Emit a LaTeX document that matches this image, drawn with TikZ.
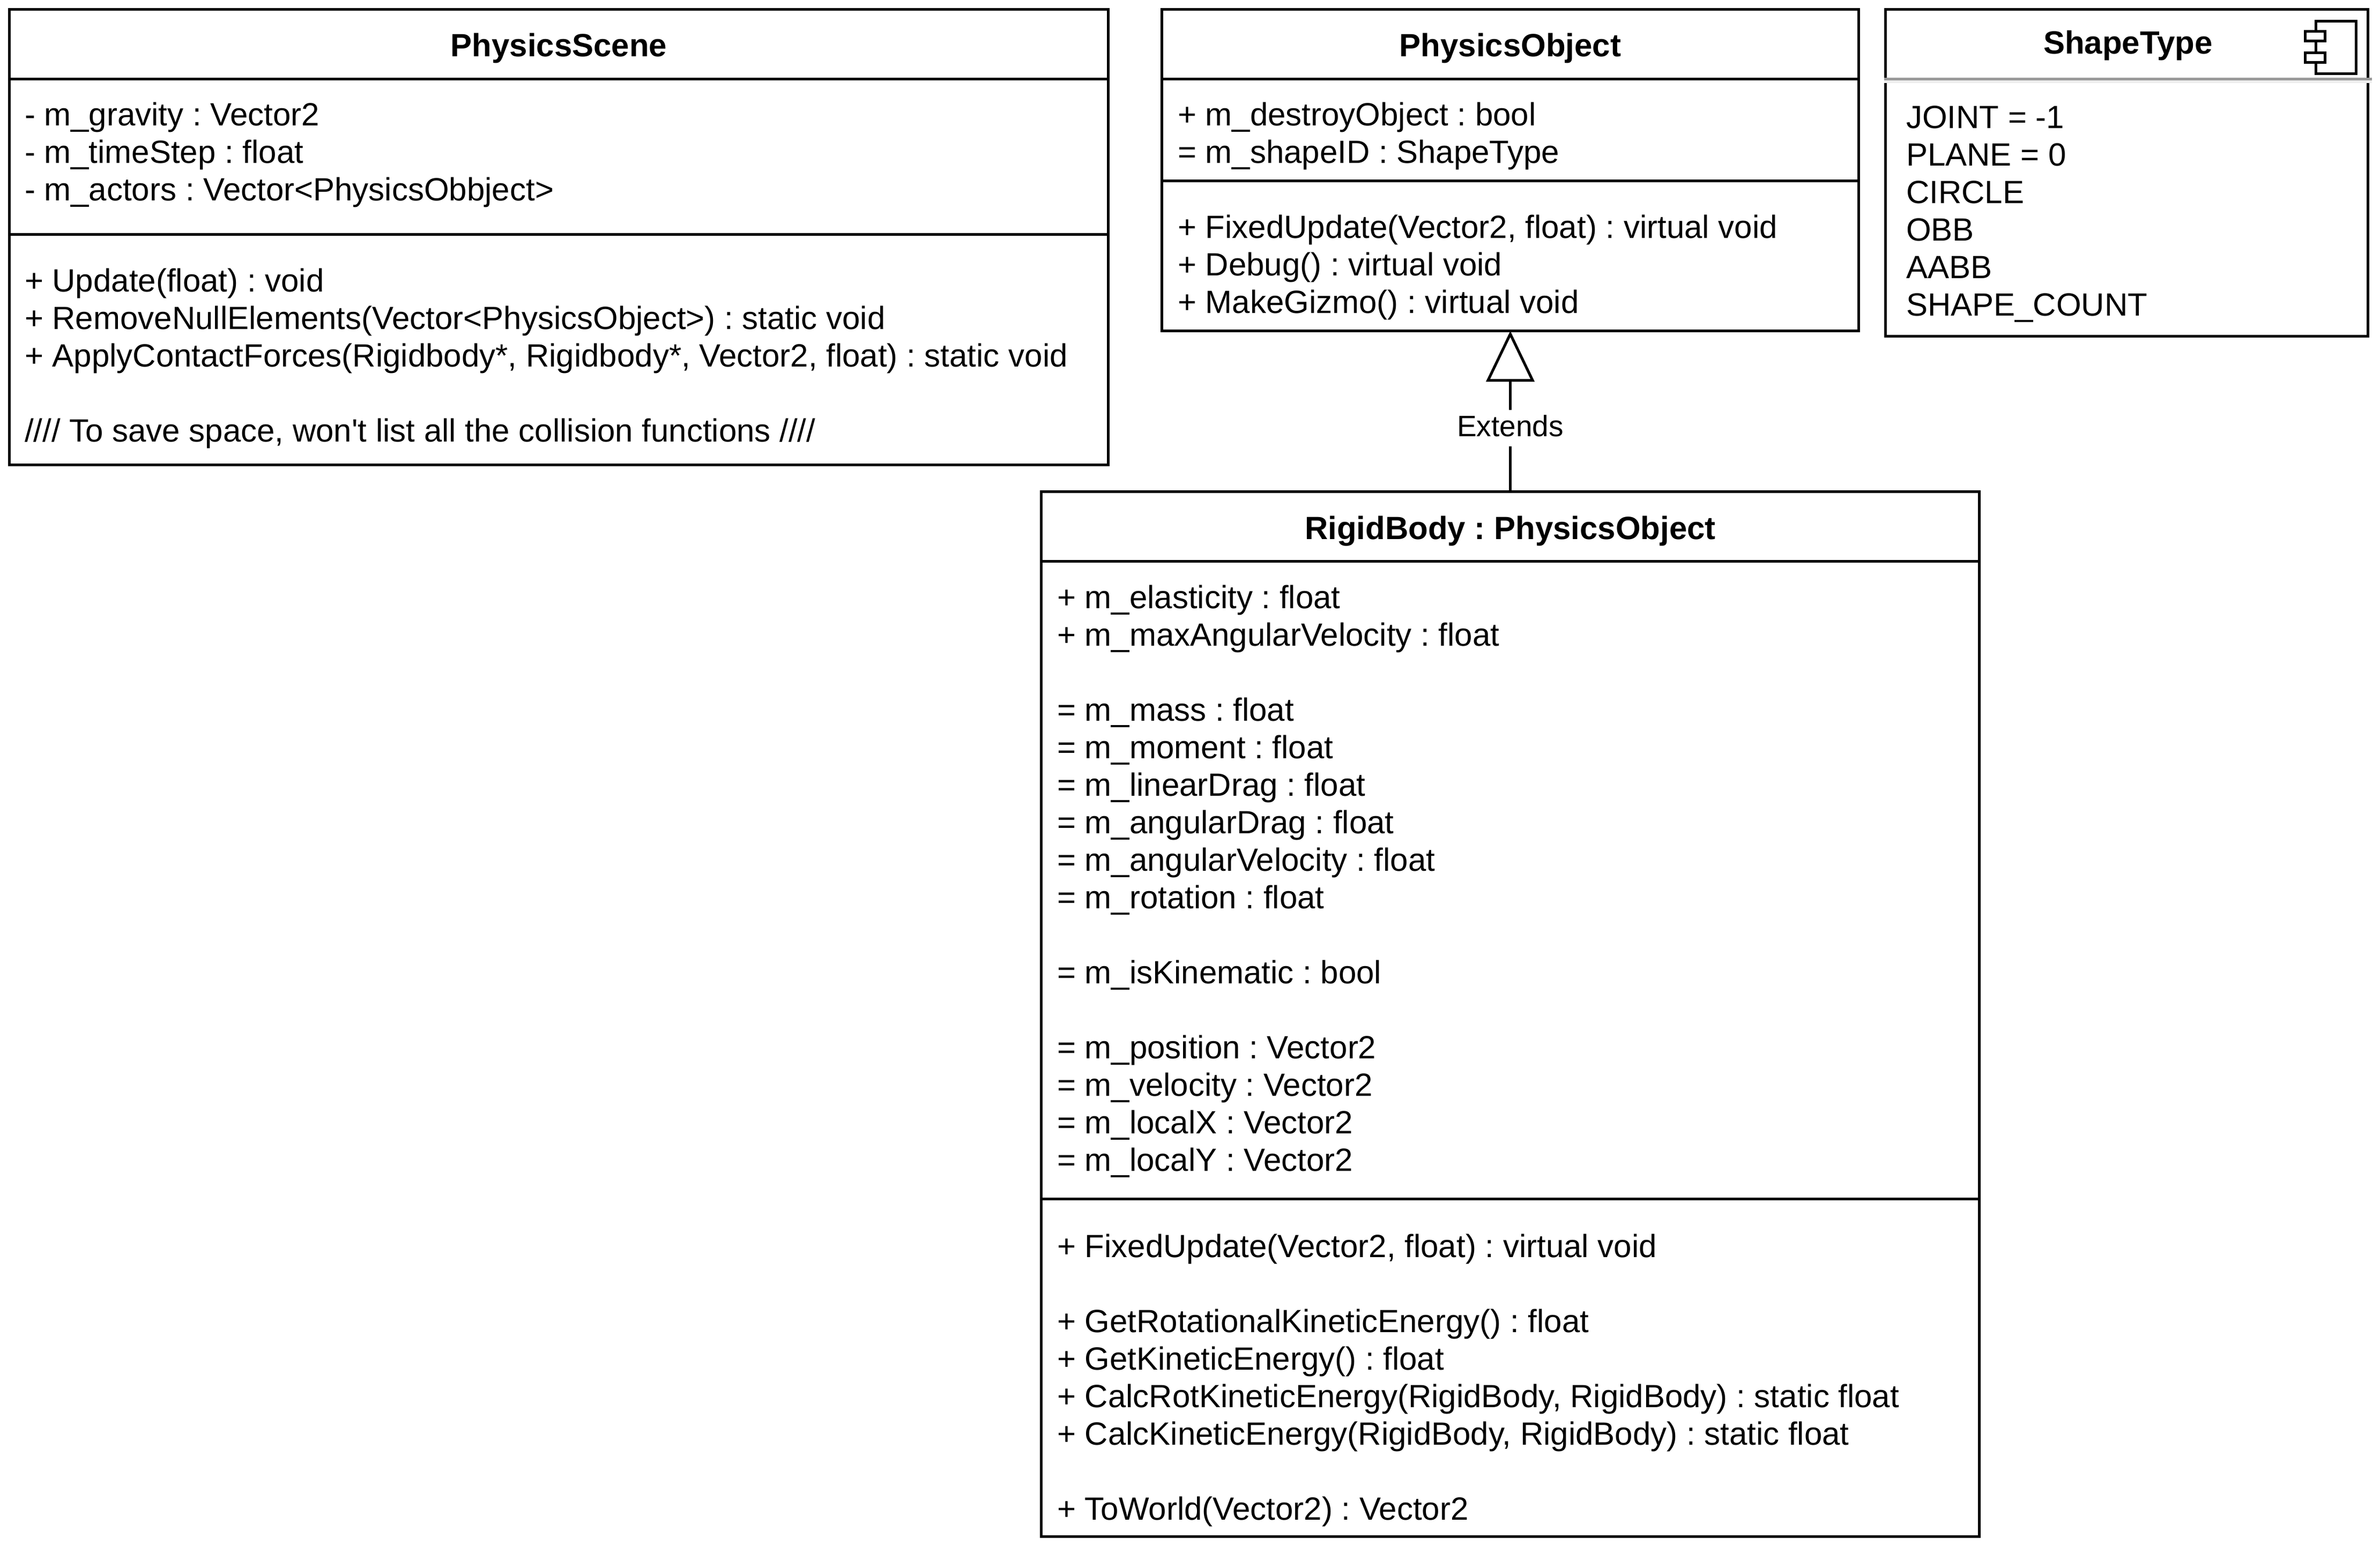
\documentclass[tikz,border=0pt]{standalone}
\usepackage{fontspec}
\setmainfont{Liberation Sans}
\usetikzlibrary{arrows.meta}
\frenchspacing
\definecolor{bandDark}{HTML}{999999}
\definecolor{bandLight}{HTML}{EEEEEE}
\tikzset{
	umlbox/.style={draw=black, line width=1pt, anchor=north west, inner sep=0pt, outer sep=0pt},
	umltitle/.style={font=\bfseries\fontsize{12}{14}\selectfont, anchor=base, inner sep=0pt},
	umltext/.style={font=\fontsize{12}{14}\selectfont, align=left, anchor=north west, inner sep=0pt},
	umlicon/.style={draw=black, line width=1pt, fill=white},
}
\begin{document}
\begin{tikzpicture}[x=1pt, y=1pt]
			\useasboundingbox (0,0) rectangle (888,-580);
			%%%%%%%%%%%%%%%%%%%%%%%%%%%%%%%%
			\node[umlbox, minimum width=410pt, minimum height=26pt] (sceneHead) at (3.5,-3.5) {};
			\node[umlbox, minimum width=410pt, minimum height=58pt] (sceneAttr) at (3.5,-29.5) {};
			\node[umlbox, minimum width=410pt, minimum height=86pt] (sceneMeth) at (3.5,-87.5) {};
			\node[umltitle] (sceneTitle) at (208.5,-21.2) {PhysicsScene};
			\node[umltext] (sceneAttrText) at (9,-37) {\strut - m\_gravity : Vector2\\
				- m\_timeStep : float\\
				- m\_actors : Vector<PhysicsObbject>};
			\node[umltext] (sceneMethText) at (9,-98.9) {\strut + Update(float) : void\\
				+ RemoveNullElements(Vector<PhysicsObject>) : static void\\
				+ ApplyContactForces(Rigidbody*, Rigidbody*, Vector2, float) : static void\\[14pt]
				//// To save space, won\textquotesingle t list all the collision functions ////};
			%%%%%%%%%%%%%%%%%%%%%%%%%%%%%%%%
			\node[umlbox, minimum width=260pt, minimum height=26pt] (objectHead) at (433.5,-3.5) {};
			\node[umlbox, minimum width=260pt, minimum height=38pt] (objectAttr) at (433.5,-29.5) {};
			\node[umlbox, minimum width=260pt, minimum height=56pt] (objectMeth) at (433.5,-67.5) {};
			\node[umltitle] (objectTitle) at (563.5,-21.2) {PhysicsObject};
			\node[umltext] (objectAttrText) at (439.2,-37) {\strut + m\_destroyObject : bool\\
				= m\_shapeID : ShapeType};
			\node[umltext] (objectMethText) at (439.2,-79) {\strut + FixedUpdate(Vector2, float) : virtual void\\
				+ Debug() : virtual void\\
				+ MakeGizmo() : virtual void};
			%%%%%%%%%%%%%%%%%%%%%%%%%%%%%%%%
			\node[umlbox, minimum width=180pt, minimum height=122pt] (shapeBox) at (703.5,-3.5) {};
			\node[umltitle] (shapeTitle) at (794,-20.2) {ShapeType};
			\node[umltext] (shapeText) at (711,-38) {\strut JOINT = -1\\
				PLANE = 0\\
				CIRCLE\\
				OBB\\
				AABB\\
				SHAPE\_COUNT};
			\draw[bandDark, line width=1pt] (703,-29.5) -- (885,-29.5);
			\draw[bandLight, line width=1pt] (703,-30.5) -- (885,-30.5);
			\draw[umlicon] (864,-8) rectangle (879,-27.5);
			\draw[umlicon] (860,-11.7) rectangle (867.5,-15.3);
			\draw[umlicon] (860,-19.7) rectangle (867.5,-23.3);
			%%%%%%%%%%%%%%%%%%%%%%%%%%%%%%%%
			\node[umlbox, minimum width=350pt, minimum height=26pt] (rigidHead) at (388.5,-183.5) {};
			\node[umlbox, minimum width=350pt, minimum height=238pt] (rigidAttr) at (388.5,-209.5) {};
			\node[umlbox, minimum width=350pt, minimum height=126pt] (rigidMeth) at (388.5,-447.5) {};
			\node[umltitle] (rigidTitle) at (563.5,-201.3) {RigidBody : PhysicsObject};
			\node[umltext] (rigidAttrText) at (394.2,-217) {\strut + m\_elasticity : float\\
				+ m\_maxAngularVelocity : float\\[14pt]
				= m\_mass : float\\
				= m\_moment : float\\
				= m\_linearDrag : float\\
				= m\_angularDrag : float\\
				= m\_angularVelocity : float\\
				= m\_rotation : float\\[14pt]
				= m\_isKinematic : bool\\[14pt]
				= m\_position : Vector2\\
				= m\_velocity : Vector2\\
				= m\_localX : Vector2\\
				= m\_localY : Vector2};
			\node[umltext] (rigidMethText) at (394.2,-459.2) {\strut + FixedUpdate(Vector2, float) : virtual void\\[14pt]
				+ GetRotationalKineticEnergy() : float\\
				+ GetKineticEnergy() : float\\
				+ CalcRotKineticEnergy(RigidBody, RigidBody) : static float\\
				+ CalcKineticEnergy(RigidBody, RigidBody) : static float\\[14pt]
				+ ToWorld(Vector2) : Vector2};
			%%%%%%%%%%%%%%%%%%%%%%%%%%%%%%%%
			\draw[line width=1pt, -{Triangle[open, length=19pt, width=18pt]}] (rigidHead.north) -- (objectMeth.south);
			\node[fill=white, inner sep=0pt, anchor=base, text height=10pt, text depth=3.7pt, font=\fontsize{11}{13}\selectfont] (extendsLabel) at (563.5,-163) {Extends};
		\end{tikzpicture}
\end{document}
